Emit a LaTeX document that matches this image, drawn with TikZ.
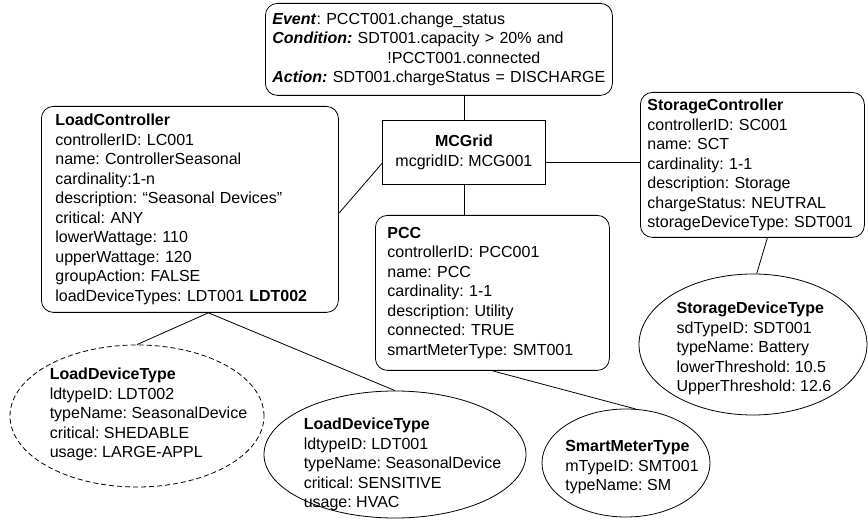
\documentclass[tikz,border=0pt]{standalone}
\usepackage{fontspec}
\setmainfont{Liberation Sans}
\usetikzlibrary{shapes.geometric}
\newcommand{\etext}[3]{\makebox[0pt]{\hspace*{#1}\smash{\raisebox{#2}{\begin{tabular}{@{}l@{}}#3\end{tabular}}}}}
\begin{document}
\frenchspacing
\begin{tikzpicture}[x=1pt,y=-1pt,
  every node/.style={font=\fontsize{16}{19.5}\selectfont\frenchspacing},
  line/.style={draw=black, line width=0.8pt},
  rbox/.style={draw, line width=0.8pt, rounded corners=12pt, anchor=north west, align=left, inner ysep=0pt},
  sbox/.style={draw, line width=0.8pt, rectangle, anchor=north west, align=center, inner sep=0pt},
  ell/.style={draw, line width=0.8pt, ellipse, inner sep=0pt},
  dell/.style={ell, dash pattern=on 5pt off 3pt},
]
\useasboundingbox[fill=white] (0,0) rectangle (868,521);

\node[rbox, inner xsep=7pt, text width=333pt, minimum height=92pt] (ev) at (265,3)
 {\textbf{\textit{Event}}: PCCT001.change\_status\\
  \textbf{\textit{Condition:}} SDT001.capacity > 20\% and\\
  \hspace*{115pt}!PCCT001.connected\\
  \textbf{\textit{Action:}} SDT001.chargeStatus = DISCHARGE};

\node[sbox, minimum width=163pt, minimum height=64pt] (mcg) at (382,120)
 {\textbf{MCGrid}\\mcgridID: MCG001};

\node[rbox, inner xsep=14pt, text width=269pt, minimum height=206pt] (lc) at (41,106)
 {\textbf{LoadController}\\
  controllerID: LC001\\
  name: ControllerSeasonal\\
  cardinality:1-n\\
  description: “Seasonal Devices”\\
  critical: ANY\\
  lowerWattage: 110\\
  upperWattage: 120\\
  groupAction: FALSE\\
  loadDeviceTypes: LDT001 \textbf{LDT002}};

\node[rbox, inner xsep=12pt, text width=210pt, minimum height=155pt] (pcc) at (375,215)
 {\textbf{PCC}\\
  controllerID: PCC001\\
  name: PCC\\
  cardinality: 1-1\\
  description: Utility\\
  connected: TRUE\\
  smartMeterType: SMT001};

\node[rbox, inner xsep=7pt, text width=210pt, minimum height=145pt] (sc) at (640,92)
 {\textbf{StorageController}\\
  controllerID: SC001\\
  name: SCT\\
  cardinality: 1-1\\
  description: Storage\\
  chargeStatus: NEUTRAL\\
  storageDeviceType: SDT001};

\node[dell, minimum width=254pt, minimum height=142pt] (ldt2) at (137,416)
 {\etext{23pt}{-3pt}{\textbf{LoadDeviceType}\\ ldtypeID: LDT002\\ typeName: SeasonalDevice\\ critical: SHEDABLE\\ usage: LARGE-APPL}};

\node[ell, minimum width=262pt, minimum height=127pt] (ldt1) at (395,454.5)
 {\etext{15pt}{-14.5pt}{\textbf{LoadDeviceType}\\ ldtypeID: LDT001\\ typeName: SeasonalDevice\\ critical: SENSITIVE\\ usage: HVAC}};

\node[ell, minimum width=168pt, minimum height=108pt] (smt) at (626,463)
 {\etext{12pt}{-8.5pt}{\textbf{SmartMeterType}\\ mTypeID: SMT001\\ typeName: SM}};

\node[ell, minimum width=228pt, minimum height=141pt] (sdt) at (753,344.5)
 {\etext{2pt}{-8.5pt}{\textbf{StorageDeviceType}\\ sdTypeID: SDT001\\ typeName: Battery\\ lowerThreshold: 10.5\\ UpperThreshold: 12.6}};

\draw[line] (mcg.north) -- (mcg.north |- ev.south);
\draw[line] (mcg.south) -- (mcg.south |- pcc.north);
\draw[line] ([yshift=-10pt]mcg.east) -- ([yshift=-10pt]mcg.east -| sc.west);
\draw[line] ([yshift=-11pt]mcg.west) -- ([yshift=-4pt]lc.east);
\draw[line] ([xshift=18.5pt]lc.south) -- (ldt2.north);
\draw[line] ([xshift=18.5pt]lc.south) -- (ldt1.north);
\draw[line] (pcc.south) -- (smt.80);
\draw[line] ([xshift=15pt]sc.south) -- (sdt.87);
\end{tikzpicture}
\end{document}
